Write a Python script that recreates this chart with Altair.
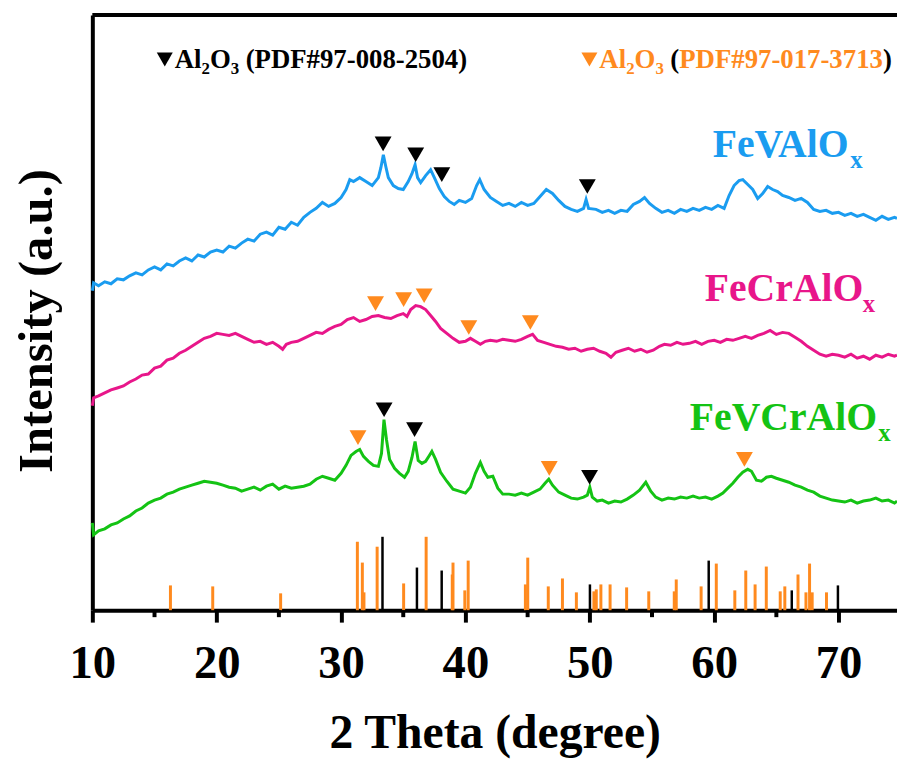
import altair as alt
import pandas as pd

# ---------------- data ----------------
# y values are in plot units: 0 = bottom axis, 600 = top frame
blue_x = [10.0, 10.1, 10.5, 11.0, 11.5, 12.0, 12.5, 13.0, 13.5, 14.0, 14.5, 15.0, 15.5, 16.0, 16.5, 17.0, 17.5, 18.0, 18.5, 19.0,
          19.5, 20.0, 20.5, 21.0, 21.5, 22.0, 22.5, 23.0, 23.5, 24.0, 24.5, 25.0, 25.5, 26.0, 26.5, 27.0, 27.5, 28.0, 28.5, 29.0,
          29.5, 30.0, 30.4, 30.7, 31.0, 31.5, 32.0, 32.5, 33.0, 33.2, 33.4, 33.6, 33.8, 34.2, 34.6, 35.0, 35.4, 35.7, 35.95, 36.15,
          36.4, 36.8, 37.2, 37.5, 37.9, 38.3, 38.7, 39.1, 39.5, 40.0, 40.5, 40.9, 41.15, 41.5, 42.0, 42.5, 43.0, 43.5, 44.0, 44.5,
          45.0, 45.5, 46.0, 46.5, 47.0, 47.5, 48.0, 48.5, 49.0, 49.5, 49.7, 49.9, 50.5, 51.0, 51.5, 52.0, 52.5, 53.0, 53.5, 54.0,
          54.4, 54.8, 55.3, 55.8, 56.3, 56.8, 57.3, 57.8, 58.3, 58.8, 59.3, 59.8, 60.3, 60.8, 61.2, 61.6, 62.0, 62.3, 62.7, 63.1,
          63.5, 63.9, 64.3, 64.7, 65.1, 65.5, 66.0, 66.5, 67.0, 67.5, 68.0, 68.5, 69.0, 69.5, 70.0, 70.5, 71.0, 71.5, 72.0, 72.5,
          73.0, 73.5, 74.0, 74.5, 74.7]
blue_y = [322, 330, 327, 331, 329, 334, 333, 337, 340, 338, 343, 346, 343, 349, 347, 352, 355, 352, 358, 356,
          361, 363, 361, 367, 365, 370, 374, 372, 379, 381, 378, 386, 384, 391, 388, 396, 401, 405, 411, 407,
          410, 416, 424, 434, 432, 436, 432, 428, 436, 446, 459, 447, 436, 428, 425, 424, 432, 440, 449, 436,
          431, 438, 444, 436, 425, 417, 412, 409, 413, 411, 415, 428, 434, 424, 416, 412, 408, 410, 407, 411,
          408, 410, 417, 424, 420, 413, 407, 404, 402, 405, 414, 405, 404, 401, 403, 400, 403, 402, 409, 412,
          416, 410, 405, 401, 403, 400, 404, 402, 405, 403, 406, 404, 408, 405, 418, 428, 433, 434, 429, 424,
          415, 420, 427, 424, 422, 418, 416, 413, 415, 411, 404, 402, 403, 400, 401, 398, 400, 397, 399, 396,
          393, 397, 394, 396, 395]

pink_x = [10.0, 10.1, 10.5, 11.0, 11.5, 12.0, 12.5, 13.0, 13.5, 14.0, 14.5, 15.0, 15.5, 16.0, 16.5, 17.0, 17.5, 18.0, 18.5, 19.0,
          19.5, 20.0, 20.5, 21.0, 21.5, 22.0, 22.5, 23.0, 23.5, 24.0, 24.5, 25.0, 25.3, 25.6, 26.0, 26.5, 27.0, 27.5, 28.0, 28.5,
          29.0, 29.5, 30.0, 30.5, 31.0, 31.5, 32.0, 32.5, 33.0, 33.5, 34.0, 34.5, 35.0, 35.3, 35.6, 36.0, 36.4, 36.8, 37.2, 37.6,
          38.0, 38.5, 39.0, 39.5, 40.0, 40.4, 40.8, 41.2, 41.6, 42.0, 42.5, 43.0, 43.5, 44.0, 44.5, 45.0, 45.4, 45.8, 46.3, 46.8,
          47.3, 47.8, 48.3, 48.8, 49.3, 49.8, 50.3, 50.8, 51.3, 51.7, 52.1, 52.6, 53.1, 53.6, 54.1, 54.6, 55.1, 55.6, 56.0, 56.5,
          57.0, 57.5, 58.0, 58.5, 59.0, 59.5, 60.0, 60.5, 61.0, 61.5, 62.0, 62.5, 63.0, 63.5, 64.0, 64.5, 65.0, 65.5, 66.0, 66.5,
          67.0, 67.5, 68.0, 68.5, 69.0, 69.5, 70.0, 70.5, 71.0, 71.5, 72.0, 72.5, 73.0, 73.5, 74.0, 74.5, 74.7]
pink_y = [206, 214, 216, 219, 222, 224, 226, 230, 233, 237, 238, 244, 246, 252, 254, 259, 262, 266, 270, 274,
          276, 279, 278, 277, 279, 276, 273, 270, 271, 268, 270, 266, 263, 268, 270, 271, 274, 277, 280, 279,
          283, 286, 288, 293, 295, 291, 293, 296, 297, 295, 294, 297, 299, 296, 303, 307, 306, 303, 297, 291,
          284, 279, 274, 270, 271, 274, 271, 268, 271, 272, 271, 273, 272, 271, 273, 276, 278, 272, 270, 268,
          266, 265, 263, 264, 261, 263, 264, 261, 259, 255, 260, 262, 264, 261, 263, 260, 262, 266, 268, 267,
          270, 268, 269, 271, 268, 271, 272, 270, 273, 272, 274, 276, 274, 277, 279, 282, 278, 280, 279, 275,
          271, 266, 262, 258, 256, 258, 257, 255, 258, 254, 256, 253, 257, 255, 258, 256, 257]

green_x = [10.0, 10.1, 10.5, 11.0, 11.5, 12.0, 12.5, 13.0, 13.5, 14.0, 14.5, 15.0, 15.5, 16.0, 16.5, 17.0, 17.5, 18.0, 18.5, 19.0,
           19.5, 20.0, 20.5, 21.0, 21.5, 22.0, 22.5, 23.0, 23.5, 24.0, 24.5, 25.0, 25.5, 26.0, 26.5, 27.0, 27.5, 28.0, 28.5, 29.0,
           29.5, 30.0, 30.4, 30.8, 31.2, 31.5, 31.8, 32.2, 32.6, 33.0, 33.25, 33.45, 33.65, 33.9, 34.3, 34.7, 35.1, 35.4, 35.7, 35.95,
           36.2, 36.5, 36.8, 37.1, 37.3, 37.6, 38.0, 38.5, 39.0, 39.5, 40.0, 40.4, 40.8, 41.2, 41.5, 41.8, 42.2, 42.6, 43.0, 43.5,
           44.0, 44.5, 45.0, 45.5, 46.0, 46.4, 46.7, 47.0, 47.5, 48.0, 48.5, 49.0, 49.5, 49.8, 50.0, 50.2, 50.6, 51.0, 51.5, 52.0,
           52.5, 53.0, 53.5, 54.0, 54.5, 54.9, 55.3, 55.8, 56.3, 56.8, 57.3, 57.8, 58.3, 58.8, 59.3, 59.8, 60.3, 60.7, 61.1, 61.5,
           61.9, 62.3, 62.7, 63.0, 63.4, 63.8, 64.2, 64.6, 65.0, 65.5, 66.0, 66.5, 67.0, 67.5, 68.0, 68.5, 69.0, 69.5, 70.0, 70.5,
           71.0, 71.5, 72.0, 72.5, 73.0, 73.5, 74.0, 74.5, 74.7]
green_y = [88, 76, 80, 82, 86, 88, 92, 95, 100, 103, 108, 111, 113, 117, 119, 122, 124, 126, 128, 130,
           129, 128, 126, 124, 123, 120, 122, 124, 121, 125, 127, 122, 125, 123, 124, 125, 127, 132, 135, 133,
           131, 138, 146, 156, 160, 162, 155, 150, 146, 145, 158, 192, 172, 152, 143, 138, 134, 140, 154, 170,
           151, 148, 150, 156, 160, 152, 139, 130, 122, 120, 118, 124, 138, 149, 140, 134, 135, 123, 117, 117,
           116, 118, 116, 119, 122, 128, 132, 126, 119, 116, 113, 112, 114, 116, 124, 114, 110, 111, 108, 110,
           109, 112, 116, 121, 129, 120, 114, 111, 113, 112, 114, 113, 115, 113, 114, 112, 115, 118, 123, 128,
           134, 139, 142, 140, 131, 130, 134, 135, 133, 131, 129, 126, 124, 121, 119, 115, 113, 111, 110, 109,
           111, 108, 110, 111, 113, 110, 111, 108, 110]

# reference sticks (position, relative height)
black_pos = [33.33, 36.10, 38.09, 50.01, 59.56, 66.24, 69.95]
black_h = [74, 43, 40, 26, 50, 20, 25]
orange_pos = [16.28, 19.68, 25.14, 31.31, 31.71, 31.84, 32.90, 35.03, 36.84, 38.94, 39.0, 39.95, 40.22,
              44.82, 45.01, 46.66, 47.80, 48.92, 50.33, 50.52, 50.89, 51.63, 52.96, 54.74, 56.79, 56.95, 58.95,
              60.17, 61.66, 62.54, 63.29, 64.19, 65.31, 65.68, 66.74, 67.38, 67.67, 67.88, 69.03]
orange_h = [25, 24, 17, 69, 48, 18, 64, 27, 74, 36, 48, 20, 50,
            26, 53, 24, 32, 18, 19, 21, 26, 26, 23, 19, 19, 31, 24,
            47, 20, 40, 26, 44, 19, 24, 36, 18, 47, 18, 18]

# peak markers
black_mark_x = [33.38, 36.0, 38.1, 49.8, 33.46, 35.91, 49.98]
black_mark_y = [470, 459, 439, 427, 202, 182, 134]
orange_mark_x = [32.77, 35.03, 36.68, 40.27, 45.22, 31.36, 46.74, 62.43]
orange_mark_y = [309, 313, 317, 285, 290, 174, 143, 152]

series_names = ["FeVAlO", "FeCrAlO", "FeVCrAlO"]
series_sub = ["x", "x", "x"]
x_ticks = [10, 20, 30, 40, 50, 60, 70]
x_minor = [15, 25, 35, 45, 55, 65]
legend_main = ["Al", "O"]
legend_sub = ["2", "3"]
legend_codes = ["(PDF#97-008-2504)", "PDF#97-017-3713"]

# ---------------- styling / layout ----------------
W, H = 811, 600
FONT = "Liberation Serif"
BLUE, PINK, GREEN, ORANGE = "#1A9CF0", "#E8168A", "#14C314", "#FF8A1E"
colors = [BLUE, PINK, GREEN]

xscale = alt.Scale(domain=[10, 74.7], nice=False, zero=False)
yscale = alt.Scale(domain=[0, 600], nice=False, zero=False)
xaxis = alt.Axis(values=x_ticks, title="2 Theta (degree)", grid=False,
                 labelFont=FONT, labelFontSize=47, labelFontWeight="bold", labelColor="black",
                 labelBaseline="alphabetic", labelPadding=56, labelFlush=False, labelOverlap=False,
                 tickSize=12, tickWidth=4, tickColor="black",
                 domainColor="black", domainWidth=4,
                 titleFont=FONT, titleFontSize=48, titleFontWeight="bold", titleColor="black",
                 titleBaseline="alphabetic", titleY=138)
yaxis = alt.Axis(title="Intensity (a.u.)", labels=False, ticks=False, grid=False,
                 domainColor="black", domainWidth=4,
                 titleFont=FONT, titleFontSize=49, titleFontWeight="bold", titleColor="black",
                 titleBaseline="alphabetic", titleAlign="center", titleX=-41, titleY=308)


def X(f):
    return alt.X(f, type="quantitative", scale=xscale, axis=xaxis)


def Y(f):
    return alt.Y(f, type="quantitative", scale=yscale, axis=yaxis)


layers = []

# curves
for xs, ys, c in [(blue_x, blue_y, BLUE), (pink_x, pink_y, PINK), (green_x, green_y, GREEN)]:
    d = pd.DataFrame({"x": xs, "v": ys})
    layers.append(alt.Chart(d).mark_line(color=c, strokeWidth=3).encode(x=X("x"), y=Y("v")))

# sticks
for pos, hh, c, sw in [(orange_pos, orange_h, ORANGE, 3), (black_pos, black_h, "black", 2.5)]:
    d = pd.DataFrame({"x": pos, "base": [0] * len(pos), "h": hh})
    layers.append(alt.Chart(d).mark_rule(color=c, strokeWidth=sw).encode(x=X("x"), y=Y("base"), y2="h"))

# peak markers
for xs, ys, c in [(black_mark_x, black_mark_y, "black"), (orange_mark_x, orange_mark_y, ORANGE)]:
    d = pd.DataFrame({"x": xs, "v": ys})
    layers.append(alt.Chart(d).mark_point(shape="triangle-down", filled=True, size=290, color=c,
                                          opacity=1, strokeWidth=0).encode(x=X("x"), y=Y("v")))

# series labels (main text + subscript)
lab_pos = [(59.88, 457, 70.95, 446), (59.24, 312, 71.95, 301), (58.04, 182, 73.2, 171)]
for name, sub, c, (x0, y0, x1, y1) in zip(series_names, series_sub, colors, lab_pos):
    d = pd.DataFrame({"x": [x0], "v": [y0], "t": [name]})
    layers.append(alt.Chart(d).mark_text(color=c, font=FONT, fontSize=40, fontWeight="bold",
                                         align="left", baseline="alphabetic")
                  .encode(x=X("x"), y=Y("v"), text="t:N"))
    d2 = pd.DataFrame({"x": [x1], "v": [y1], "t": [sub]})
    layers.append(alt.Chart(d2).mark_text(color=c, font=FONT, fontSize=25, fontWeight="bold",
                                          align="left", baseline="alphabetic")
                  .encode(x=X("x"), y=Y("v"), text="t:N"))

# minor ticks
dm = pd.DataFrame({"x": x_minor})
layers.append(alt.Chart(dm).mark_rule(color="black", strokeWidth=4)
              .encode(x=X("x"), y=alt.value(H), y2=alt.value(H + 7)))

# top frame
one = pd.DataFrame({"a": [0]})
layers.append(alt.Chart(one).mark_rule(color="black", strokeWidth=4)
              .encode(x=alt.value(0), x2=alt.value(W), y=alt.value(0)))


# top legend (pixel positions within the plot area)
def ptext(s, px, py, size, color):
    return alt.Chart(pd.DataFrame({"t": [s]})).mark_text(
        color=color, font=FONT, fontSize=size, fontWeight="bold", align="left", baseline="alphabetic"
    ).encode(x=alt.value(px), y=alt.value(py), text="t:N")


def ptri(px, py, color):
    return alt.Chart(one).mark_point(shape="triangle-down", filled=True, size=260, color=color,
                                     opacity=1, strokeWidth=0).encode(x=alt.value(px), y=alt.value(py))


# black group
layers += [ptri(73, 45, "black"),
           ptext(legend_main[0], 83, 54, 27, "black"),
           ptext(legend_sub[0], 110, 60, 17, "black"),
           ptext(legend_main[1], 118.5, 54, 27, "black"),
           ptext(legend_sub[1], 139.5, 60, 17, "black"),
           ptext(legend_codes[0], 154.5, 54, 27, "black")]
# orange group
ox = 501
layers += [ptri(ox, 45, ORANGE),
           ptext(legend_main[0], ox + 10, 54, 27, ORANGE),
           ptext(legend_sub[0], ox + 37, 60, 17, ORANGE),
           ptext(legend_main[1], ox + 45.5, 54, 27, ORANGE),
           ptext(legend_sub[1], ox + 66.5, 60, 17, ORANGE),
           ptext("(", ox + 81.5, 54, 27, "black"),
           ptext(legend_codes[1], ox + 90.5, 54, 27, ORANGE),
           ptext(")", ox + 296, 54, 27, "black")]

chart = alt.layer(*layers).properties(
    width=W, height=H,
    padding={"left": 85, "top": 4, "right": 0, "bottom": 147},
    autosize=alt.AutoSizeParams(type="none"),
).configure_view(stroke=None)

chart.save("out.html", embed_options={"renderer": "svg", "actions": False})
